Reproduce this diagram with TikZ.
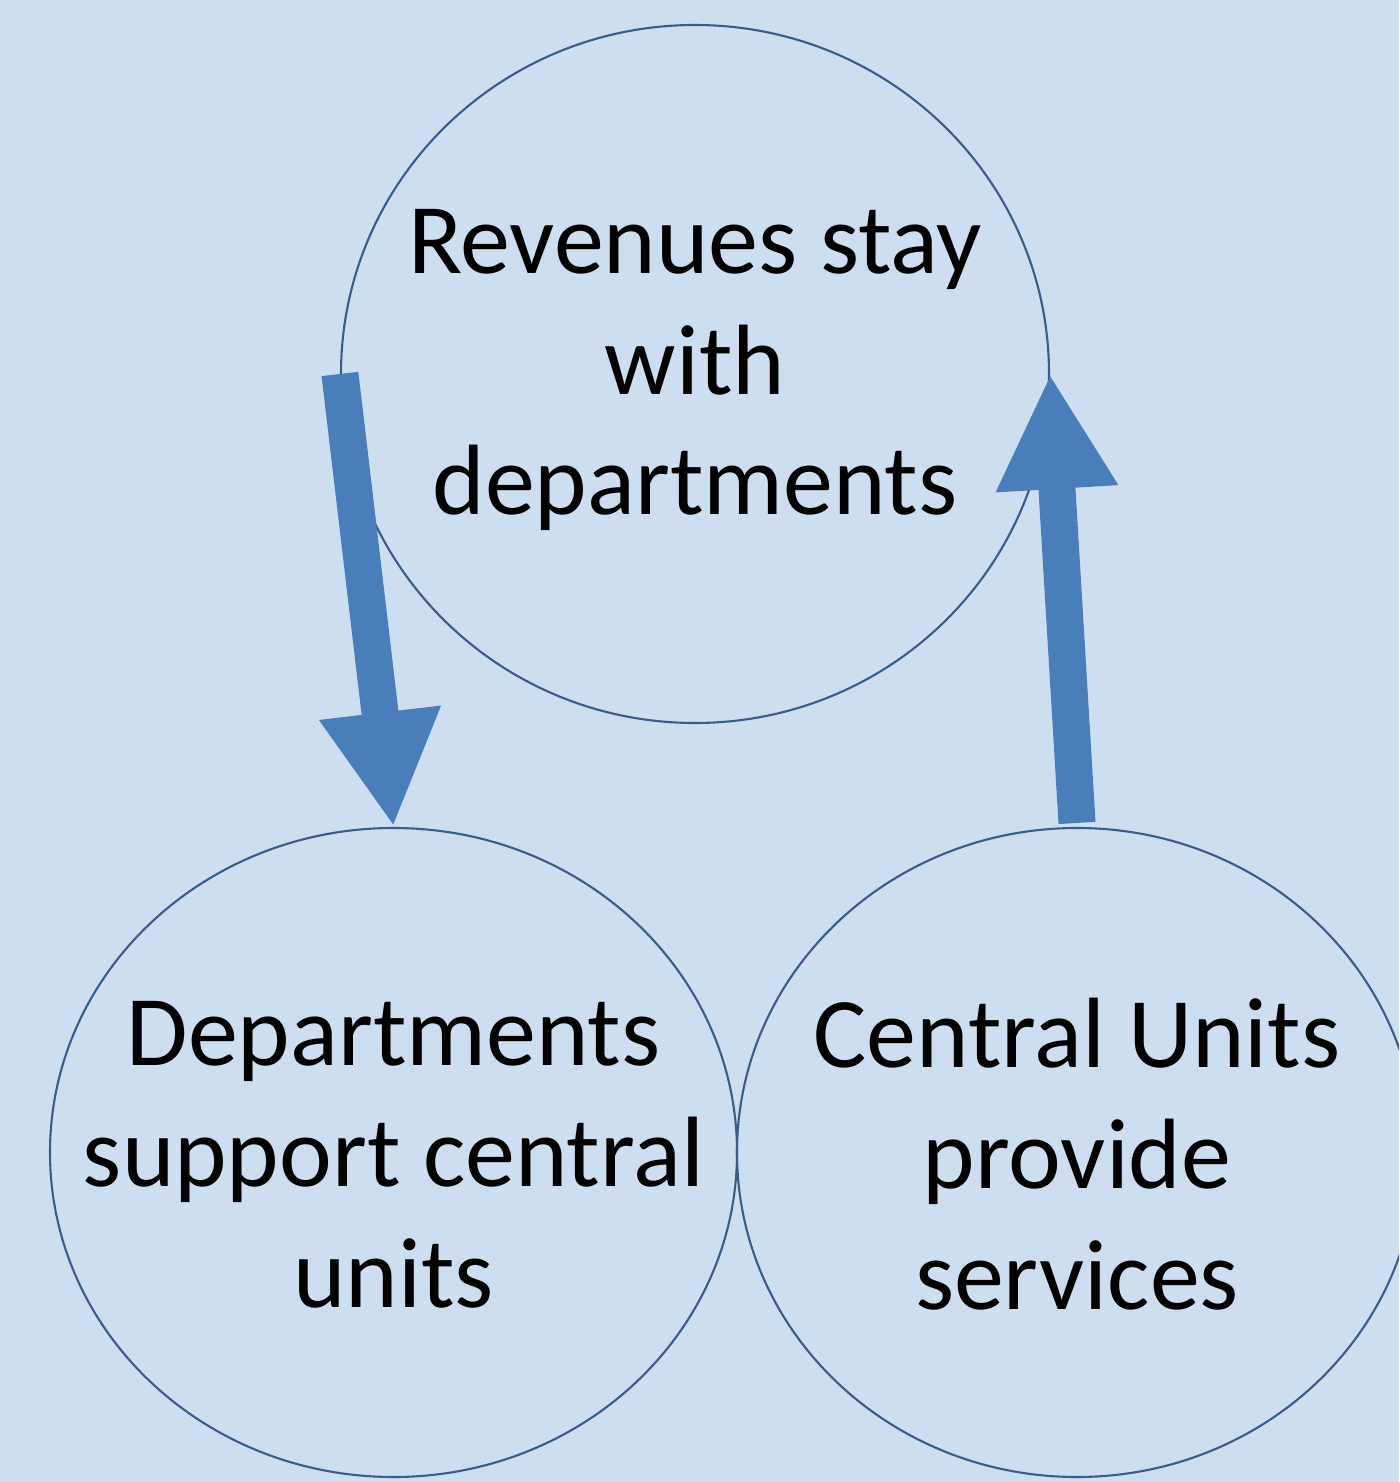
\documentclass[tikz,border=0pt]{standalone}
\usepackage{fontspec}
\setmainfont{Carlito}
\usepackage{tikz}
\usetikzlibrary{
    positioning,
    arrows.meta,
    shapes.geometric
}
\definecolor{bgBlue}{RGB}{205, 222, 241}
\definecolor{arrowBlue}{RGB}{74, 126, 187}
\definecolor{rimBlue}{RGB}{56, 93, 138}

\begin{document}
\begin{tikzpicture}[
        bubble/.style={ellipse, draw=rimBlue, line width=0.6pt, inner sep=0pt},
        words/.style={align=center, inner sep=0pt, font=\fontsize{28.45}{34.4}\selectfont},
        flow/.style={arrowBlue, line width=0.37cm, -{Triangle[width=1.14cm, length=1.15cm]}}
    ]
        % Hintergrund
        \fill[bgBlue] (0,0) rectangle (13.99,-14.82);
        \useasboundingbox (0,0) rectangle (13.99,-14.82);
        \clip (0,0) rectangle (13.99,-14.82);

        % Kreise
        \node[bubble, minimum width=7.08cm, minimum height=6.98cm] (rev) at (6.95,-3.74) {};
        \node[bubble, minimum width=6.87cm, minimum height=6.49cm] (dep) at (3.935,-11.525) {};
        \node[bubble, minimum width=6.80cm, minimum height=6.49cm] (cen) at (10.77,-11.525) {};

        % Texte
        \node[words] (revtext) at ([yshift=0.04cm]rev.center) {Revenues stay\\with\\departments};
        \node[words] (deptext) at ([yshift=-0.02cm]dep.center) {Departments\\support central\\units};
        \node[words] (centext) at ([yshift=-0.02cm]cen.center) {Central Units\\provide\\services};

        % Pfeile
        \draw[flow] (rev.west) -- (dep.north);
        \draw[flow] ([yshift=0.04cm]cen.north) -- (rev.east);
    \end{tikzpicture}
\end{document}
